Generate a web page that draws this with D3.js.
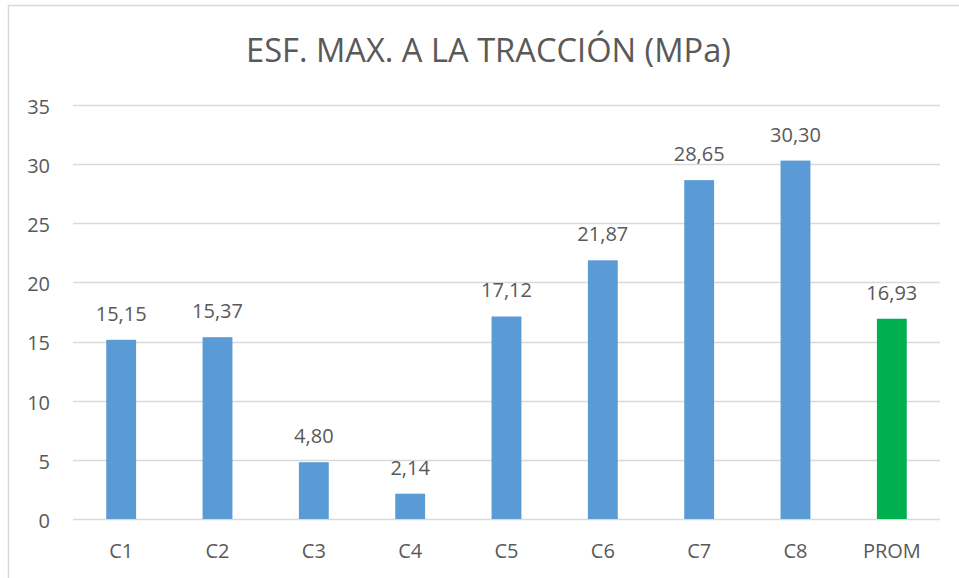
<!DOCTYPE html>
<html>
<head>
<meta charset="utf-8">
<script src="https://cdn.jsdelivr.net/npm/d3@7"></script>
<style>
  body { margin: 0; background: #fff; }
  text { font-family: "Open Sans", sans-serif; fill: #595959; }
</style>
</head>
<body>
<script>
const categories = ['C1', 'C2', 'C3', 'C4', 'C5', 'C6', 'C7', 'C8', 'PROM']
const values = [15.15, 15.37, 4.80, 2.14, 17.12, 21.87, 28.65, 30.30, 16.93]
const yTicks = [0, 5, 10, 15, 20, 25, 30, 35]
const title = 'ESF. MAX. A LA TRACCIÓN (MPa)'

const width = 959, height = 578
const margin = { top: 105, right: 19, bottom: 59, left: 73 }

const svg = d3.select('body').append('svg')
    .attr('width', width)
    .attr('height', height)

// chart frame (runs off the right and bottom of the window)
svg.append('rect')
    .attr('x', 8.5).attr('y', 5.5)
    .attr('width', 980).attr('height', 600)
    .attr('fill', 'none')
    .attr('stroke', '#d9d9d9')
    .attr('stroke-width', 1.5)

const xScale = d3.scaleBand()
    .domain(categories)
    .range([margin.left, width - margin.right])
    .paddingInner(0.69)
    .paddingOuter(0.345)

const yScale = d3.scaleLinear()
    .domain([0, 35])
    .range([height - margin.bottom, margin.top])

// gridlines
svg.append('g')
    .selectAll('line')
    .data(yTicks)
    .enter()
    .append('line')
    .attr('x1', margin.left)
    .attr('x2', width - margin.right)
    .attr('y1', d => Math.round(yScale(d)) + 0.5)
    .attr('y2', d => Math.round(yScale(d)) + 0.5)
    .attr('stroke', '#d9d9d9')
    .attr('stroke-width', 1.5)

// y axis labels
const yAxis = svg.append('g')
    .attr('transform', 'translate(50,0)')
    .call(d3.axisLeft(yScale).tickValues(yTicks).tickSize(0).tickPadding(0))
yAxis.select('.domain').remove()
yAxis.selectAll('text')
    .style('font-size', '20px')
    .attr('font-family', null)
    .attr('fill', '#595959')
    .attr('dy', '0.42em')

// x axis labels
const xAxis = svg.append('g')
    .attr('transform', 'translate(0,' + (height - margin.bottom) + ')')
    .call(d3.axisBottom(xScale).tickSize(0).tickPadding(0))
xAxis.select('.domain').remove()
xAxis.selectAll('text')
    .style('font-size', '20px')
    .attr('font-family', null)
    .attr('fill', '#595959')
    .attr('y', 39)
    .attr('dy', 0)

// bars
svg.selectAll('.bar')
    .data(categories)
    .enter()
    .append('rect')
    .attr('class', 'bar')
    .attr('x', d => xScale(d))
    .attr('width', xScale.bandwidth())
    .attr('y', (d, i) => yScale(values[i]))
    .attr('height', (d, i) => yScale(0) - yScale(values[i]))
    .attr('fill', d => d === 'PROM' ? '#00b050' : '#5b9bd5')

// value labels
svg.selectAll('.label')
    .data(categories)
    .enter()
    .append('text')
    .attr('class', 'label')
    .attr('x', d => xScale(d) + xScale.bandwidth() / 2)
    .attr('y', (d, i) => yScale(values[i]) - 19)
    .attr('text-anchor', 'middle')
    .style('font-size', '20px')
    .text((d, i) => values[i].toFixed(2).replace('.', ','))

// title
svg.append('text')
    .attr('x', 488.5)
    .attr('y', 62)
    .attr('text-anchor', 'middle')
    .attr('textLength', 485)
    .attr('lengthAdjust', 'spacingAndGlyphs')
    .style('font-size', '33px')
    .text(title)
</script>
</body>
</html>
